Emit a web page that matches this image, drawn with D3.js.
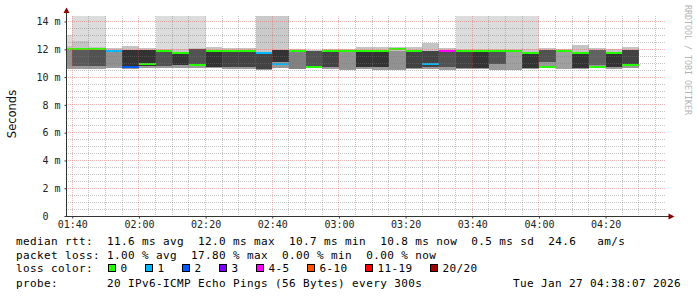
<!DOCTYPE html>
<html>
<head>
<meta charset="utf-8">
<script src="https://cdn.jsdelivr.net/npm/d3@7"></script>
<style>
body { margin: 0; background: #fff; }
text { white-space: pre; }
</style>
</head>
<body>
<div class="chart"></div>
<script>
// === Data (one 5 minute step per entry, values in ms) ===
const times = ["01:35","01:40","01:45","01:50","01:55","02:00","02:05","02:10","02:15","02:20",
               "02:25","02:30","02:35","02:40","02:45","02:50","02:55","03:00","03:05","03:10",
               "03:15","03:20","03:25","03:30","03:35","03:40","03:45","03:50","03:55","04:00",
               "04:05","04:10","04:15","04:20","04:25"];
const median = [12.00,12.00,12.00,11.86,10.71,10.95,11.91,11.76,10.88,11.91,
                11.91,11.91,11.76,10.95,11.86,10.76,11.91,11.91,11.91,11.91,
                12.00,11.91,10.95,11.91,11.91,11.91,11.91,11.91,11.76,10.76,
                11.91,11.76,10.76,11.76,10.84];
// lost pings out of 20
const loss = [0,0,0,1,2,0,0,0,0,0, 0,0,1,1,0,0,0,0,0,0, 0,0,1,3.56,0,0,0,0,0,0, 0,0,0,0,0];
// pings far above the rest (smoke reaching the top)
const outliers = [1,1,1,0,0,0,1,1,1,0, 0,0,2,2,0,0,0,0,0,0, 0,0,0,0,1,1,1,1,1,0, 0,0,0,0,0];
const smokeMax = [13.06,15,15,12.10,12.22,12.10,15,15,15,12.19,
                  12.10,12.10,15,15,12.03,11.98,12.05,12.05,12.15,12.15,
                  12.15,12.19,12.43,12.10,15,15,15,15,15,12.10,
                  12.03,12.34,12.10,12.03,12.19];
const smokeHigh = [12.27,12.60,12.19,12.10,12.22,12.10,12.05,12.05,12.10,12.19,
                   12.10,12.10,12.03,12.03,12.03,11.98,12.05,12.05,12.15,12.15,
                   12.15,12.19,12.43,12.10,12.05,12.05,12.05,12.05,12.05,12.10,
                   12.03,12.34,12.10,12.03,12.19];
const coreTop = [11.95,11.95,11.95,11.80,11.95,11.95,11.83,11.71,12.05,11.86,
                 11.86,11.86,11.71,11.95,11.79,11.86,11.86,11.79,11.79,11.79,
                 11.86,11.79,11.86,11.79,11.79,11.86,11.86,11.86,11.71,11.95,
                 11.86,11.71,11.95,11.67,11.95];
const coreBottom = [10.83,10.83,10.83,10.80,10.76,10.83,10.83,10.90,10.95,10.71,
                    10.71,10.71,10.59,11.07,10.59,10.83,10.71,10.55,10.76,10.71,
                    10.55,10.66,10.71,10.71,10.66,10.66,10.95,10.55,10.66,11.07,
                    10.59,10.66,10.90,10.71,10.95];
const smokeMin = [10.59,10.59,10.59,10.66,10.59,10.66,10.66,10.66,10.66,10.66,
                  10.59,10.59,10.52,10.66,10.55,10.66,10.59,10.52,10.59,10.52,
                  10.52,10.59,10.59,10.52,10.59,10.59,10.52,10.52,10.59,10.66,
                  10.55,10.59,10.66,10.59,10.66];
// pings packed in the core band
const coreDensity = [6,9.5,10,6,12,12,10,12,10,12, 11,11,11,12,7,10,11,6,12,12,
                     6,11,11,10,11,12,10,5,12,10, 5,12,9,12,11];

const yTicks = [0,2,4,6,8,10,12,14];
const lossLabels = ["0","1","2","3","4-5","6-10","11-19","20/20"];
const lossLimits = [0,1,2,3,5,10,19,20];
const lossColors = ["#26ff00","#00b8ff","#0059ff","#7e00ff","#ff00ff","#ff5500","#ff0000","#a10000"];

const legendRows = [
  "median rtt:  11.6 ms avg  12.0 ms max  10.7 ms min  10.8 ms now  0.5 ms sd  24.6   am/s",
  "packet loss: 1.00 % avg  17.80 % max  0.00 % min  0.00 % now",
  "loss color:",
  "probe:       20 IPv6-ICMP Echo Pings (56 Bytes) every 300s"
];
const stamp = "Tue Jan 27 04:38:07 2026";

// === Chart init ===
const W = 697, H = 297;
const plot = {left: 66, right: 666, top: 16, bottom: 216};

const svg = d3.select(".chart").append("svg")
    .attr("width", W)
    .attr("height", H)
    .style("display", "block");

svg.append("rect").attr("width", W).attr("height", H).attr("fill", "#fff");

const day = s => { const [h, m] = s.split(":"); return new Date(2026, 0, 27, +h, +m); };
const tStart = new Date(2026, 0, 27, 1, 38, 7);
const tEnd = new Date(2026, 0, 27, 4, 38, 7);

const xScale = d3.scaleTime().domain([tStart, tEnd]).range([plot.left, plot.right]);
const yScale = d3.scaleLinear().domain([0, 14.4]).range([plot.bottom, plot.top]);
const coreColor = d3.scaleLinear().domain([4, 12]).range(["#b0b0b0", "#333333"]).clamp(true);
const topColor = d3.scaleLinear().domain([1, 2]).range(["#dcdcdc", "#cacaca"]).clamp(true);
const lossColor = v => lossColors[lossLimits.findIndex(l => v <= l)];

const cols = times.map((t, i) => ({
  t0: day(t), t1: d3.timeMinute.offset(day(t), 5),
  median: median[i], loss: loss[i], outliers: outliers[i],
  max: smokeMax[i], high: smokeHigh[i], top: coreTop[i], bottom: coreBottom[i], min: smokeMin[i],
  density: coreDensity[i]
}));

svg.append("clipPath").attr("id", "plot-clip")
  .append("rect")
    .attr("x", plot.left).attr("y", plot.top)
    .attr("width", plot.right - plot.left).attr("height", plot.bottom - plot.top);

const px = v => Math.round(v);
const g = svg.append("g").attr("clip-path", "url(#plot-clip)");

// smoke layers: [upper value, lower value, fill]
const layers = [
  d => [d.max, d.high, topColor(d.outliers)],
  d => [d.high, d.top, "#c4c4c4"],
  d => [d.top, d.bottom, coreColor(d.density)],
  d => [d.bottom, d.min, "#9a9a9a"]
];
layers.forEach(layer => {
  g.append("g").selectAll("rect")
    .data(cols.filter(d => layer(d)[0] > layer(d)[1]))
    .join("rect")
      .attr("x", d => px(xScale(d.t0)))
      .attr("width", d => px(xScale(d.t1)) - px(xScale(d.t0)))
      .attr("y", d => px(yScale(layer(d)[0])))
      .attr("height", d => px(yScale(layer(d)[1])) - px(yScale(layer(d)[0])))
      .attr("fill", d => layer(d)[2])
      .attr("shape-rendering", "crispEdges");
});

// === Grid ===
const grid = svg.append("g").attr("shape-rendering", "crispEdges").attr("fill", "none");
const minorY = d3.range(0.5, 14.4, 0.5).filter(v => v % 2 !== 0);
const majorY = yTicks.filter(v => v > 0);
const minorX = d3.timeMinute.every(5).range(tStart, tEnd).filter(t => t.getMinutes() % 20 !== 0);
const majorX = d3.timeMinute.every(20).range(tStart, tEnd);
const minorStroke = "rgba(120,120,120,0.42)";
const majorStroke = "rgba(240,70,70,0.38)";

grid.selectAll(".hmin").data(minorY).join("line")
    .attr("x1", plot.left).attr("x2", plot.right)
    .attr("y1", d => Math.floor(yScale(d)) + 0.5).attr("y2", d => Math.floor(yScale(d)) + 0.5)
    .attr("stroke", minorStroke).attr("stroke-dasharray", "1,1");
grid.selectAll(".vmin").data(minorX).join("line")
    .attr("y1", plot.top).attr("y2", plot.bottom)
    .attr("x1", d => Math.floor(xScale(d)) + 0.5).attr("x2", d => Math.floor(xScale(d)) + 0.5)
    .attr("stroke", minorStroke).attr("stroke-dasharray", "1,1");
grid.selectAll(".hmaj").data(majorY).join("line")
    .attr("x1", plot.left).attr("x2", plot.right)
    .attr("y1", d => Math.floor(yScale(d)) + 0.5).attr("y2", d => Math.floor(yScale(d)) + 0.5)
    .attr("stroke", majorStroke).attr("stroke-dasharray", "1,1");
grid.selectAll(".vmaj").data(majorX).join("line")
    .attr("y1", plot.top).attr("y2", plot.bottom)
    .attr("x1", d => Math.floor(xScale(d)) + 0.5).attr("x2", d => Math.floor(xScale(d)) + 0.5)
    .attr("stroke", majorStroke).attr("stroke-dasharray", "1,1");

// median lines coloured by loss
g.append("g").selectAll("rect")
  .data(cols)
  .join("rect")
    .attr("x", d => px(xScale(d.t0)))
    .attr("width", d => px(xScale(d.t1)) - px(xScale(d.t0)))
    .attr("y", d => px(yScale(d.median) - 1))
    .attr("height", 2)
    .attr("fill", d => lossColor(d.loss))
    .attr("shape-rendering", "crispEdges");

// === Axes ===
const xAxis = d3.axisBottom(xScale)
    .tickValues(majorX)
    .tickFormat(d3.timeFormat("%H:%M"))
    .tickSize(2).tickSizeOuter(0).tickPadding(2);
const yAxis = d3.axisLeft(yScale)
    .tickValues(yTicks)
    .tickFormat(v => v ? v + " m" : "0  ")
    .tickSize(2).tickSizeOuter(0).tickPadding(4);

const axisFont = g => {
  g.select(".domain").remove();
  g.selectAll(".tick line").attr("stroke", "#333");
  g.selectAll("text")
    .attr("font-family", "DejaVu Sans Mono")
    .attr("font-size", "10px")
    .attr("fill", "#222");
};
svg.append("g").attr("class", "axis x-axis")
    .attr("transform", "translate(0," + (plot.bottom + 0.5) + ")")
    .call(xAxis).call(axisFont);
svg.append("g").attr("class", "axis y-axis")
    .attr("transform", "translate(" + (plot.left + 0.5) + ",0)")
    .call(yAxis).call(axisFont);

svg.append("line")
    .attr("x1", plot.left + 0.5).attr("x2", plot.left + 0.5)
    .attr("y1", plot.bottom + 0.5).attr("y2", 11)
    .attr("stroke", "#333");
svg.append("line")
    .attr("x1", plot.left).attr("x2", 670)
    .attr("y1", plot.bottom + 0.5).attr("y2", plot.bottom + 0.5)
    .attr("stroke", "#333");
svg.append("path").attr("d", "M63.5,13 L69.5,13 L66.5,7.5 Z").attr("fill", "#8b0000");
svg.append("path").attr("d", "M668.5,213.5 L668.5,219.5 L674.5,216.5 Z").attr("fill", "#8b0000");

svg.append("text")
    .attr("transform", "translate(15.5,114) rotate(-90)")
    .attr("text-anchor", "middle")
    .attr("font-family", "DejaVu Sans")
    .attr("font-size", "11.5px")
    .attr("fill", "#111")
    .text("Seconds");

svg.append("text")
    .attr("transform", "translate(685,5) rotate(90)")
    .attr("font-family", "DejaVu Sans Mono")
    .attr("font-size", "8.3px")
    .attr("fill", "#b4b4b4")
    .text("RRDTOOL / TOBI OETIKER");

// === Legend ===
const rowY = [244.5, 258.7, 271.8, 286.6];
const legend = svg.append("g")
    .attr("font-family", "DejaVu Sans Mono")
    .attr("font-size", "11px")
    .attr("letter-spacing", "0.38px")
    .attr("fill", "#000");

legend.selectAll(".row").data(legendRows).join("text")
    .attr("x", 16)
    .attr("y", (d, i) => rowY[i])
    .text(d => d);

legend.append("text").attr("x", 513).attr("y", rowY[3]).text(stamp);

let lx = 108;
lossLabels.forEach((lab, i) => {
  legend.append("rect")
      .attr("x", lx + 0.5).attr("y", 264.5)
      .attr("width", 7).attr("height", 7)
      .attr("fill", lossColors[i]).attr("stroke", "#000");
  legend.append("text").attr("x", lx + 12.5).attr("y", rowY[2]).text(lab);
  lx += 16 + (lab.length + 2) * 7;
});
</script>
</body>
</html>
